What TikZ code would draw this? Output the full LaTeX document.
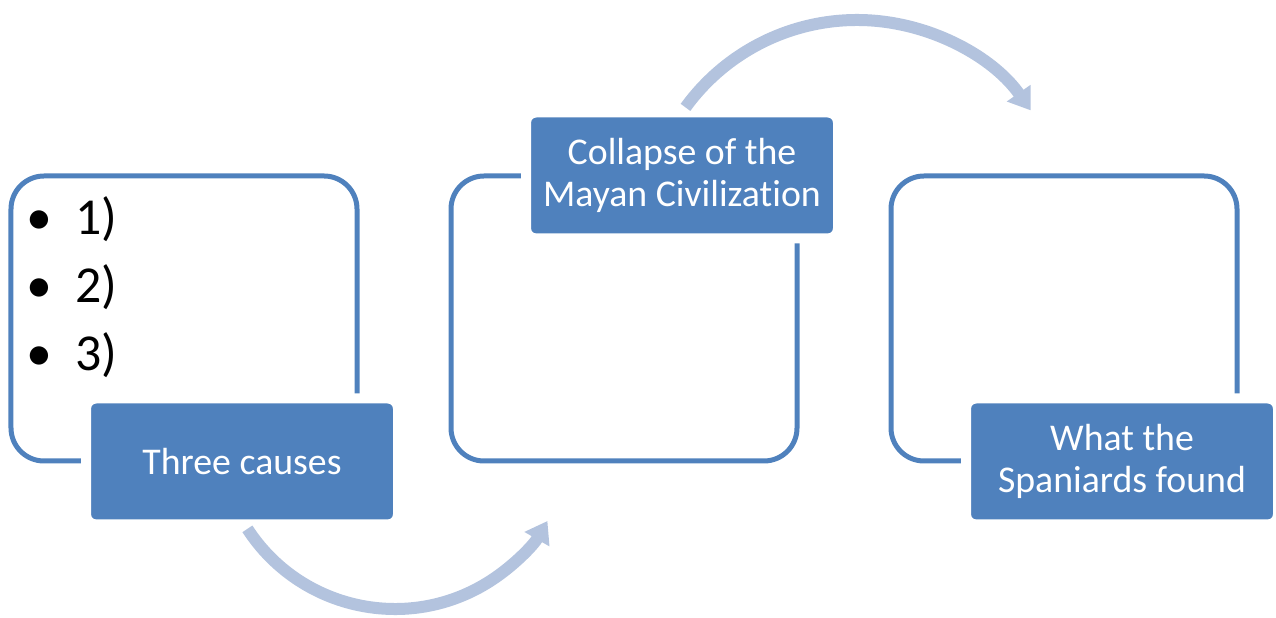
\documentclass[tikz,border=0pt]{standalone}
\usepackage{fontspec}
\setmainfont{Carlito}[Ligatures={NoCommon}]
\usepackage{tikz}
\usetikzlibrary{arrows.meta, positioning}
\definecolor{mayablue}{RGB}{79,129,189}
\definecolor{arcblue}{RGB}{179,195,222}

\begin{document}
\begin{tikzpicture}[
  panel/.style={rectangle, draw=mayablue, line width=0.1cm, rounded corners=0.66cm, minimum width=6.92cm, minimum height=5.7cm},
  tag/.style={rectangle, draw=white, line width=0.2cm, fill=mayablue, rounded corners=0.2cm, minimum width=6.24cm, minimum height=2.52cm, text=white, align=center, font=\fontsize{21.5}{24}\selectfont},
  bul/.style={anchor=base, font=\fontsize{29.5}{34}\selectfont},
  itm/.style={anchor=base west, font=\fontsize{29.5}{34}\selectfont},
  arr/.style={-{Triangle[width=0.55cm, length=0.42cm]}, line width=0.24cm, arcblue},
]
  \useasboundingbox (0,0) rectangle (25.52,12.36);

  % Three causes (left)
  \node[panel] (causes) at (3.68,5.99) {};
  \foreach \k/\y in {1/7.66, 2/6.30, 3/4.94} {
    \node[bul] (dot\k) at (0.78,\y) {•};
    \node[itm] (num\k) at (1.38,\y) {\k)};
  }
  \node[tag] (causestag) at (4.84,3.13) {Three causes};

  % Collapse (middle)
  \node[panel] (collapse) at (12.48,5.99) {};
  \node[tag] (collapsetag) at (13.64,8.85) {Collapse of the\\Mayan Civilization};

  % Spaniards (right)
  \node[panel] (found) at (21.28,5.99) {};
  \node[tag] (foundtag) at (22.44,3.13) {What the\\Spaniards found};

  % Curved arrows
  \coordinate (lowmid) at (7.9,3.70);
  \coordinate (highmid) at (17.14,7.72);
  \draw[arr] (lowmid) ++(213:3.52) arc[start angle=213, end angle=330, radius=3.52];
  \draw[arr] (highmid) ++(144:4.24) arc[start angle=144, end angle=35, radius=4.24];
\end{tikzpicture}
\end{document}
